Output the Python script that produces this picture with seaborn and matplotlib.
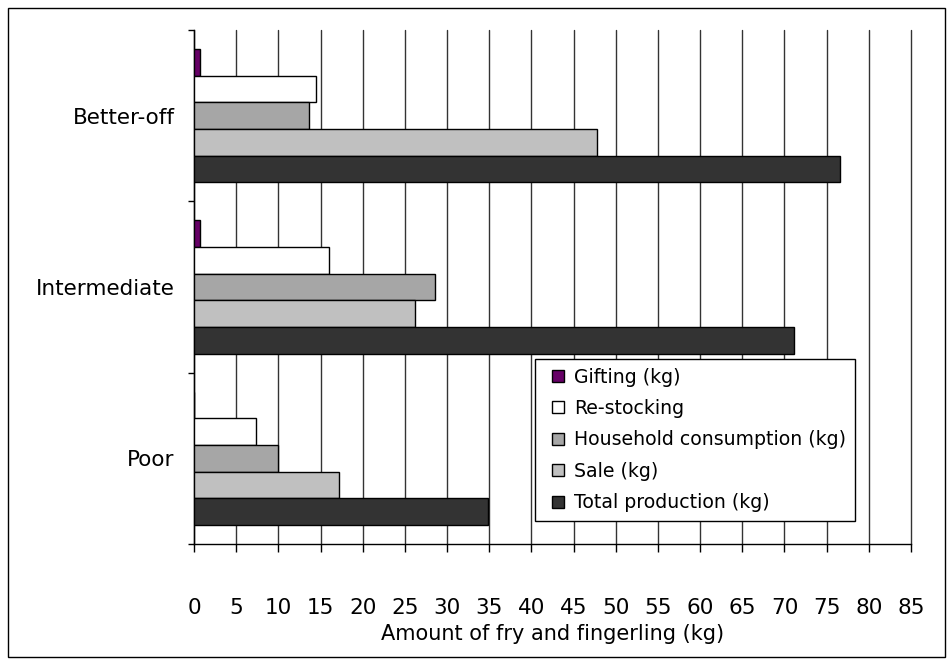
import matplotlib
matplotlib.use("Agg")
import matplotlib.pyplot as plt
import seaborn as sns
import pandas as pd
from matplotlib.lines import Line2D
from matplotlib.patches import Rectangle

groups = ["Better-off", "Intermediate", "Poor"]
series = ["Gifting (kg)", "Re-stocking", "Household consumption (kg)", "Sale (kg)", "Total production (kg)"]
gifting = [0.7, 0.7, 0.0]
restocking = [14.5, 16.0, 7.4]
household = [13.6, 28.6, 10.0]
sale = [47.8, 26.2, 17.2]
total = [76.6, 71.1, 34.8]
colors = ["#660066", "#ffffff", "#a6a6a6", "#c0c0c0", "#333333"]
xticks = list(range(0, 90, 5))
xlabel = "Amount of fry and fingerling (kg)"

values = [gifting, restocking, household, sale, total]
rows = []
for s, vals in zip(series, values):
    for g, v in zip(groups, vals):
        rows.append({"Group": g, "Series": s, "Value": v})
df = pd.DataFrame(rows)

sns.set_style("white")
plt.rcParams["font.family"] = ["DejaVu Sans"]
plt.rcParams["text.color"] = "black"
plt.rcParams["axes.labelcolor"] = "black"
plt.rcParams["xtick.color"] = "black"
plt.rcParams["ytick.color"] = "black"

fig = plt.figure(figsize=(9.53, 6.65), dpi=100)
ax = fig.add_axes([194 / 953, 121 / 665, 717 / 953, 514 / 665])

sns.barplot(data=df, y="Group", x="Value", hue="Series", order=groups,
            hue_order=series, palette=dict(zip(series, colors)), orient="h",
            width=0.78, edgecolor="black", linewidth=1.0, saturation=1,
            ax=ax, legend=False, zorder=3)

ax.set_xlim(0, 85)
ax.set_ylim(2.5, -0.5)
ax.set_xticks(xticks)
ax.set_xticklabels([str(t) for t in xticks])
ax.grid(axis="x", color="#333333", linewidth=1.0, zorder=0)
ax.grid(axis="y", visible=False)
ax.set_axisbelow(True)
for gl in ax.xaxis.get_gridlines():
    gl.set_clip_on(False)

for sp in ["top", "right"]:
    ax.spines[sp].set_visible(False)
for sp in ["left", "bottom"]:
    ax.spines[sp].set_color("black")
    ax.spines[sp].set_linewidth(1.0)

ax.tick_params(axis="x", which="major", direction="out", length=6, width=1.0,
               color="black", labelcolor="black", pad=33, labelsize=15.5, bottom=True)
ax.set_yticks([-0.5, 0.5, 1.5, 2.5], minor=True)
ax.tick_params(axis="y", which="minor", direction="out", length=4, width=1.0,
               color="black", left=True)
ax.tick_params(axis="y", which="major", length=0, pad=14, labelsize=15.5,
               labelcolor="black")
ax.set_ylabel("")
ax.set_xlabel(xlabel, fontsize=15, labelpad=4, color="black")

handles = [Line2D([], [], marker="s", markersize=8.5, markerfacecolor=c,
                  markeredgecolor="black", markeredgewidth=1.0, linestyle="None")
           for c in colors]
leg = ax.legend(handles, series, loc="lower left", bbox_to_anchor=(0.476, 0.045),
                fontsize=13.6, frameon=True, fancybox=False, framealpha=1,
                edgecolor="black", handlelength=1.5, handletextpad=0.1,
                borderpad=0.45, labelspacing=0.66, borderaxespad=0)
leg.get_frame().set_linewidth(1.0)
leg.set_zorder(5)
for t in leg.get_texts():
    t.set_color("black")

fig.patches.append(Rectangle((8 / 953, 8 / 665), 937 / 953, 649 / 665,
                             transform=fig.transFigure, fill=False,
                             edgecolor="black", linewidth=1.0))

fig.savefig("out.png", dpi=100)
